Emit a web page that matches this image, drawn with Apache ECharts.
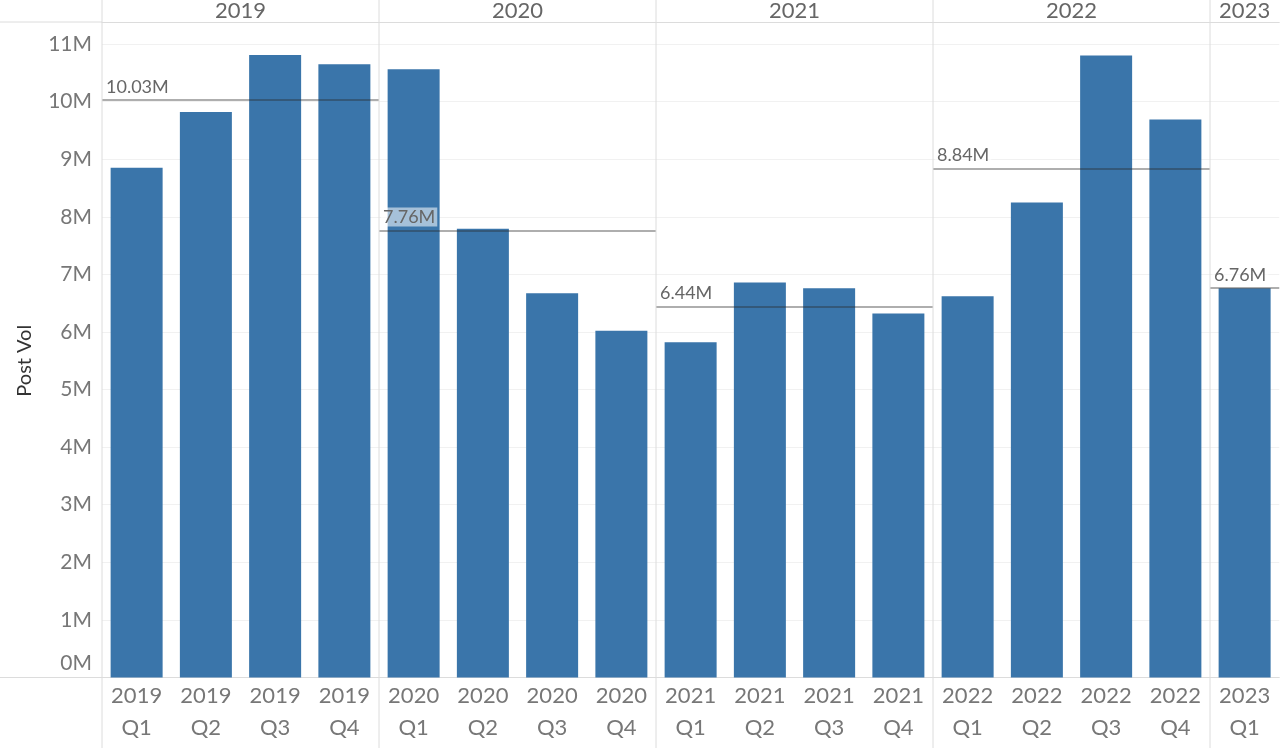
<!DOCTYPE html>
<html>
<head>
<meta charset="utf-8">
<script src="https://cdn.jsdelivr.net/npm/echarts@6/dist/echarts.min.js"></script>
<style>
html,body{margin:0;padding:0;background:#fff;}
#chart{width:1280px;height:748px;}
</style>
</head>
<body>
<div id="chart"></div>
<script>
// ---- data (values in millions) ----
const years = ['2019', '2020', '2021', '2022', '2023'];
const quarters2019 = ['2019\nQ1', '2019\nQ2', '2019\nQ3', '2019\nQ4'];
const quarters2020 = ['2020\nQ1', '2020\nQ2', '2020\nQ3', '2020\nQ4'];
const quarters2021 = ['2021\nQ1', '2021\nQ2', '2021\nQ3', '2021\nQ4'];
const quarters2022 = ['2022\nQ1', '2022\nQ2', '2022\nQ3', '2022\nQ4'];
const quarters2023 = ['2023\nQ1'];
const vol2019 = [8.85, 9.82, 10.81, 10.65];
const vol2020 = [10.56, 7.79, 6.67, 6.02];
const vol2021 = [5.82, 6.86, 6.76, 6.32];
const vol2022 = [6.62, 8.25, 10.80, 9.69];
const vol2023 = [6.76];
const yTicks = [0, 1, 2, 3, 4, 5, 6, 7, 8, 9, 10, 11];

const panels = [
  { year: years[0], cats: quarters2019, vals: vol2019 },
  { year: years[1], cats: quarters2020, vals: vol2020 },
  { year: years[2], cats: quarters2021, vals: vol2021 },
  { year: years[3], cats: quarters2022, vals: vol2022 },
  { year: years[4], cats: quarters2023, vals: vol2023 }
];

// ---- layout ----
const PLOT_LEFT = 102;
const SLOT = 69.25;
const GRID_TOP = 44;
const GRID_BOTTOM = 70.5;
const HEADER_Y = 22;
const BASE_Y = 748 - GRID_BOTTOM;
const FONT = 'Lato, "Open Sans", sans-serif';
const BAR = '#3a75aa';
const LINE = '#dcdcdc';

const grids = [], xAxes = [], yAxes = [], series = [], graphics = [];
let start = 0;
panels.forEach((p, i) => {
  const left = PLOT_LEFT + start * SLOT;
  const width = p.cats.length * SLOT;
  grids.push({ left: left, width: width, top: GRID_TOP, bottom: GRID_BOTTOM, containLabel: false });
  xAxes.push({
    type: 'category', gridIndex: i, data: p.cats, position: 'bottom',
    axisLine: { show: true, lineStyle: { color: LINE, width: 1 } },
    axisTick: { show: false },
    axisLabel: { fontFamily: FONT, fontSize: 22, color: '#777', lineHeight: 32, margin: 2, interval: 0 }
  });
  xAxes.push({
    type: 'category', gridIndex: i, data: [p.year], position: 'top', offset: GRID_TOP - HEADER_Y,
    axisLine: { show: true, lineStyle: { color: LINE, width: 1 } },
    axisTick: { show: false },
    axisLabel: { fontFamily: FONT, fontSize: 22, color: '#666', margin: 0 }
  });
  yAxes.push({
    type: 'value', gridIndex: i, min: yTicks[0], max: yTicks[yTicks.length - 1], interval: 1,
    name: i === 0 ? 'Post Vol' : '',
    nameLocation: 'middle', nameRotate: 90, nameGap: 67,
    nameTextStyle: { fontFamily: FONT, fontSize: 20, color: '#333' },
    axisLine: { show: false }, axisTick: { show: false },
    axisLabel: {
      show: i === 0, fontFamily: FONT, fontSize: 21, color: '#777', margin: 10,
      formatter: v => v === 0 ? '{z|0M}' : v + 'M',
      rich: { z: { fontFamily: FONT, fontSize: 21, color: '#777', padding: [0, 0, 28, 0] } }
    },
    splitLine: { show: true, lineStyle: { color: '#f1f1f1', width: 1 } }
  });
  series.push({
    type: 'bar', xAxisIndex: i * 2, yAxisIndex: i, data: p.vals,
    barWidth: 52, itemStyle: { color: BAR },
    markLine: {
      silent: true, symbol: 'none',
      lineStyle: { color: 'rgba(40,40,40,0.5)', type: 'solid', width: 1.5 },
      label: {
        position: 'insideStartTop', distance: [2, 4], fontFamily: FONT, fontSize: 18, color: '#666',
        backgroundColor: 'rgba(255,255,255,0.55)', padding: [1, 2, 0, 2],
        formatter: prm => prm.value.toFixed(2) + 'M'
      },
      data: [{ type: 'average' }]
    }
  });
  graphics.push({ type: 'line', shape: { x1: left, y1: 0, x2: left, y2: 748 }, style: { stroke: LINE, lineWidth: 1 }, z: 10 });
  start += p.cats.length;
});
graphics.push({ type: 'line', shape: { x1: 0, y1: HEADER_Y, x2: PLOT_LEFT, y2: HEADER_Y }, style: { stroke: LINE, lineWidth: 1 } });
graphics.push({ type: 'line', shape: { x1: 0, y1: BASE_Y, x2: PLOT_LEFT, y2: BASE_Y }, style: { stroke: LINE, lineWidth: 1 } });

const chart = echarts.init(document.getElementById('chart'));
chart.setOption({
  animation: false,
  backgroundColor: '#fff',
  grid: grids, xAxis: xAxes, yAxis: yAxes, series: series,
  graphic: graphics
});
</script>
</body>
</html>
